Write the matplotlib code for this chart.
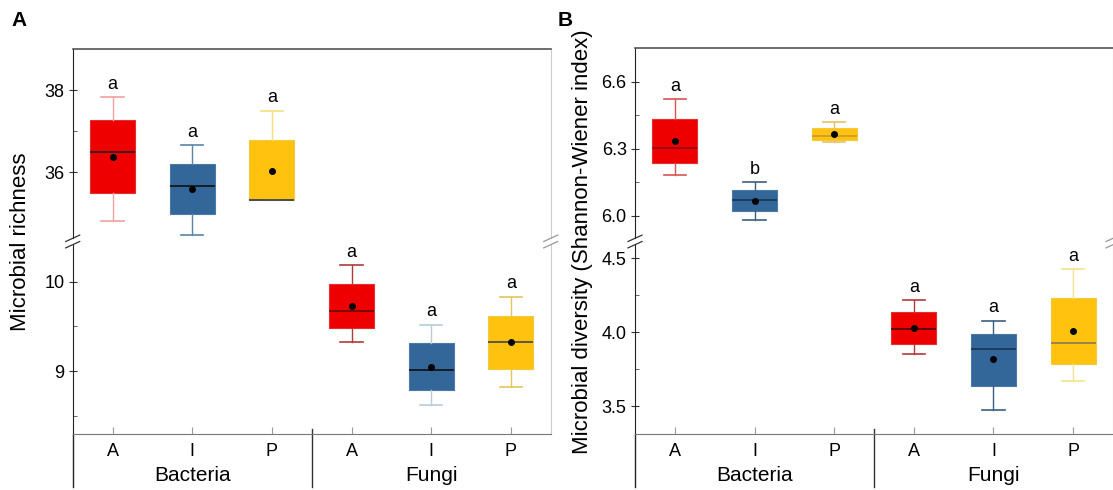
import matplotlib.pyplot as plt
from matplotlib.lines import Line2D
from matplotlib.ticker import FixedLocator, FormatStrFormatter

plt.rcParams['font.family'] = ['Liberation Sans', 'DejaVu Sans']

# === Data: Bacteria A/I/P then Fungi A/I/P ===
groups = ['Bacteria', 'Fungi']
treatments = ['A', 'I', 'P']
positions = [1, 2, 3, 4, 5, 6]

# Microbial richness
rich_whislo = [34.81, 34.48, 35.32, 9.33, 8.63, 8.83]
rich_q1 = [35.50, 34.98, 35.32, 9.48, 8.79, 9.03]
rich_med = [36.49, 35.67, 35.32, 9.67, 9.02, 9.33]
rich_q3 = [37.26, 36.21, 36.78, 9.97, 9.32, 9.62]
rich_whishi = [37.83, 36.66, 37.50, 10.18, 9.52, 9.83]
rich_mean = [36.38, 35.60, 36.04, 9.73, 9.05, 9.33]
rich_letters = ['a', 'a', 'a', 'a', 'a', 'a']

# Microbial diversity (Shannon-Wiener index)
div_whislo = [6.182, 5.983, 6.331, 3.851, 3.473, 3.673]
div_q1 = [6.237, 6.021, 6.341, 3.921, 3.636, 3.786]
div_med = [6.304, 6.071, 6.356, 4.020, 3.889, 3.926]
div_q3 = [6.433, 6.117, 6.394, 4.139, 3.989, 4.229]
div_whishi = [6.521, 6.152, 6.421, 4.217, 4.079, 4.428]
div_mean = [6.335, 6.068, 6.368, 4.031, 3.817, 4.011]
div_letters = ['a', 'b', 'a', 'a', 'a', 'a']

# === Styles ===
fill_colors = ['#EE0000', '#336699', '#FFC20E'] * 2
edge_colors = ['#E03030', '#4A7AA5', '#F5C840'] * 2
rich_whisker_colors = ['#F2A0A0', '#5B84A8', '#F5E07A', '#B03A3A', '#B8CCDA', '#E8C35A']
rich_median_colors = ['#222222', '#111111', '#2A3550', '#6A0808', '#111111', '#444444']
div_whisker_colors = ['#D9534F', '#3A5F80', '#E8C060', '#B33A3A', '#3A5F80', '#F5E38A']
div_median_colors = ['#8B1010', '#1A3550', '#C89A30', '#4A0000', '#1A3550', '#8A7A50']

W, H = 1113, 490


def fx(px):
    return px / W


def fy(py):
    return 1 - py / H


def draw_boxes(ax, idx, whislo, q1, med, q3, whishi, mean, letters, wcols, mcols):
    for i in idx:
        stats = [{'whislo': whislo[i], 'q1': q1[i], 'med': med[i], 'q3': q3[i],
                  'whishi': whishi[i], 'mean': mean[i], 'fliers': []}]
        ax.bxp(stats, positions=[positions[i]], widths=0.565, capwidths=0.28,
               patch_artist=True, showmeans=True, showfliers=False,
               boxprops=dict(facecolor=fill_colors[i], edgecolor=edge_colors[i], linewidth=0.8),
               whiskerprops=dict(color=wcols[i], linewidth=1.0),
               capprops=dict(color=wcols[i], linewidth=1.2),
               medianprops=dict(color=mcols[i], linewidth=1.2),
               meanprops=dict(marker='o', markerfacecolor='black', markeredgecolor='black',
                              markersize=4))
        ax.annotate(letters[i], (positions[i], whishi[i]), xytext=(0, 6),
                    textcoords='offset points', ha='center', va='baseline', fontsize=13)


def panel(left, right, top, up_lim, lo_lim, up_major, up_minor, lo_major, lo_minor,
          fmt, stats, letters, wcols, mcols, ylabel, ylabel_x, tag, tag_x):
    up_bottom, lo_top, bottom = 238.3, 244.7, 434.3
    ax_up = fig.add_axes([fx(left), fy(up_bottom), fx(right) - fx(left), fy(top) - fy(up_bottom)])
    ax_lo = fig.add_axes([fx(left), fy(bottom), fx(right) - fx(left), fy(lo_top) - fy(bottom)])

    whislo, q1, med, q3, whishi, mean = stats
    draw_boxes(ax_up, [0, 1, 2], whislo, q1, med, q3, whishi, mean, letters, wcols, mcols)
    draw_boxes(ax_lo, [3, 4, 5], whislo, q1, med, q3, whishi, mean, letters, wcols, mcols)

    for ax, lim, major, minor in [(ax_up, up_lim, up_major, up_minor),
                                  (ax_lo, lo_lim, lo_major, lo_minor)]:
        ax.set_xlim(0.5, 6.5)
        ax.set_ylim(*lim)
        ax.yaxis.set_major_locator(FixedLocator(major))
        ax.yaxis.set_minor_locator(FixedLocator(minor))
        ax.yaxis.set_major_formatter(FormatStrFormatter(fmt))
        ax.tick_params(axis='y', which='major', direction='inout', length=6, width=0.8,
                       color='#333333', labelsize=13, pad=3)
        ax.tick_params(axis='y', which='minor', direction='in', length=3, width=0.7,
                       color='#666666')
        ax.spines['left'].set_color('#222222')
        ax.spines['right'].set_color('#cccccc')
        ax.spines['right'].set_linewidth(0.8)

    ax_up.spines['bottom'].set_visible(False)
    ax_up.spines['top'].set_color('#555555')
    ax_up.spines['top'].set_linewidth(1.2)
    ax_up.tick_params(axis='x', bottom=False, labelbottom=False)

    ax_lo.spines['top'].set_visible(False)
    ax_lo.spines['bottom'].set_color('#777777')
    ax_lo.set_xticks(positions)
    ax_lo.set_xticklabels(treatments * 2)
    ax_lo.tick_params(axis='x', direction='in', length=5, width=0.8, color='#999999',
                      labelsize=13, pad=6)

    # category table under the x axis
    tr = ax_lo.get_xaxis_transform()
    depth = -(487 - bottom) / (bottom - lo_top)
    ax_lo.plot([0.5, 0.5], [0, depth], transform=tr, color='#222222', lw=1, clip_on=False)
    ax_lo.plot([3.5, 3.5], [0.03, depth], transform=tr, color='#333333', lw=1, clip_on=False)
    label_y = -(475.7 - bottom) / (bottom - lo_top)
    for g, x in zip(groups, [2, 5]):
        ax_lo.text(x, label_y, g, transform=tr, ha='center', va='center', fontsize=15)

    # break marks on both side spines
    for xs, col in [(left, '#333333'), (right, '#999999')]:
        for ys in (up_bottom, lo_top):
            fig.add_artist(Line2D([fx(xs - 7), fx(xs + 7)], [fy(ys + 3.2), fy(ys - 3.2)],
                                  transform=fig.transFigure, color=col, lw=0.9))

    fig.text(fx(ylabel_x), fy((top + bottom) / 2), ylabel, rotation=90,
             ha='center', va='center', fontsize=16)
    fig.text(fx(tag_x), fy(21), tag, ha='center', va='center', fontsize=15, weight='bold')


fig = plt.figure(figsize=(W / 100, H / 100), dpi=100)

panel(72.7, 550.7, 49, (34.39, 39.0), (8.3, 10.41), [36, 38], [37], [9, 10], [8.5, 9.5],
      '%d', (rich_whislo, rich_q1, rich_med, rich_q3, rich_whishi, rich_mean),
      rich_letters, rich_whisker_colors, rich_median_colors,
      'Microbial richness', 21, 'A', 19)

panel(635, 1113, 48.3, (5.90, 6.75), (3.31, 4.593), [6.0, 6.3, 6.6], [6.15, 6.45],
      [3.5, 4.0, 4.5], [3.75, 4.25],
      '%.1f', (div_whislo, div_q1, div_med, div_q3, div_whishi, div_mean),
      div_letters, div_whisker_colors, div_median_colors,
      'Microbial diversity (Shannon-Wiener index)', 582.5, 'B', 565.5)

fig.savefig('out.png', dpi=100)
